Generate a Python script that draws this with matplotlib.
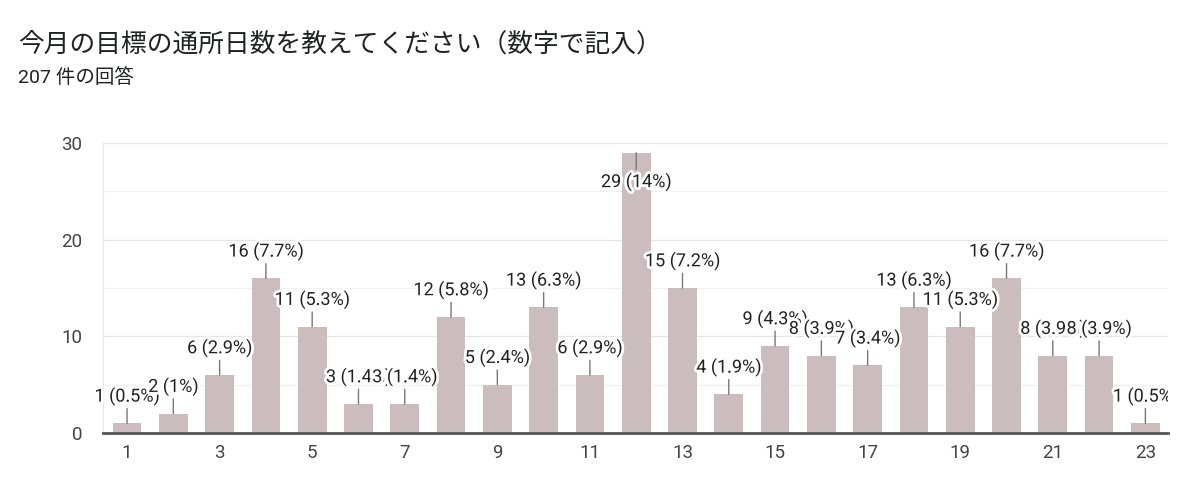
import matplotlib
matplotlib.use("Agg")
import matplotlib.pyplot as plt
import matplotlib.patheffects as pe
from matplotlib.patches import Rectangle

plt.rcParams['font.family'] = ['Roboto', 'Noto Sans CJK JP', 'DejaVu Sans']

# data
days = list(range(1, 24))
counts = [1, 2, 6, 16, 11, 3, 3, 12, 5, 13, 6, 29, 15, 4, 9, 8, 7, 13, 11, 16, 8, 8, 1]
total = 207
xtick_labels = [str(d) for d in range(1, 24, 2)]

title = "今月の目標の通所日数を教えてください（数字で記入）"
subtitle = "207 件の回答"

bar_color = "#cbbcbe"

fig = plt.figure(figsize=(12, 4.92), dpi=100)
ax = fig.add_axes([0.0858, 0.1199, 0.8872, 0.5894])

ax.bar(days, counts, width=0.62, color=bar_color, zorder=2)

ax.set_xlim(0.48, 23.48)
ax.set_ylim(0, 30)
ax.set_yticks([0, 10, 20, 30])
ax.set_yticks([5, 15, 25], minor=True)
ax.set_xticks(range(1, 24, 2))
ax.set_xticklabels(xtick_labels)
ax.grid(axis='y', which='major', color='#e6e6e6', lw=1, zorder=0)
ax.grid(axis='y', which='minor', color='#f2f2f2', lw=1, zorder=0)
ax.tick_params(axis='both', which='both', length=0, labelsize=13.5, colors='#444444')
ax.tick_params(axis='x', pad=8)
ax.tick_params(axis='y', pad=15)

for s in ['top', 'right']:
    ax.spines[s].set_visible(False)
ax.spines['left'].set_color('#e6e6e6')
ax.spines['bottom'].set_color('#555555')
ax.spines['bottom'].set_linewidth(2)
ax.spines['bottom'].set_zorder(3)

# clip area for labels (open on the left, cut on the right)
clip = Rectangle((-0.1, -0.1), 1.1, 1.3, transform=ax.transAxes, visible=False)
ax.add_patch(clip)

for d, c in zip(days, counts):
    pct = f"{c / total * 100:.1f}".rstrip('0').rstrip('.')
    label = f"{c} ({pct}%)"
    off = -21 if c >= 28 else 19.5
    t = ax.annotate(label, xy=(d, c), xytext=(0, off), textcoords='offset points',
                    ha='center', va='center', fontsize=13, color='#222222',
                    arrowprops=dict(arrowstyle='-', color='#777777', lw=1,
                                    shrinkA=0, shrinkB=0),
                    zorder=4, annotation_clip=False)
    t.set_path_effects([pe.withStroke(linewidth=4, foreground='white')])
    t.set_clip_path(clip)

fig.text(0.015, 0.9085, title, fontsize=18.5, color='#202124', va='center',
         family=['Noto Sans CJK JP', 'DejaVu Sans'])
fig.text(0.015, 0.8415, subtitle, fontsize=14, color='#202124', va='center',
         family=['Roboto', 'Noto Sans CJK JP', 'DejaVu Sans'])

fig.savefig("out.png", dpi=100, facecolor='white')
